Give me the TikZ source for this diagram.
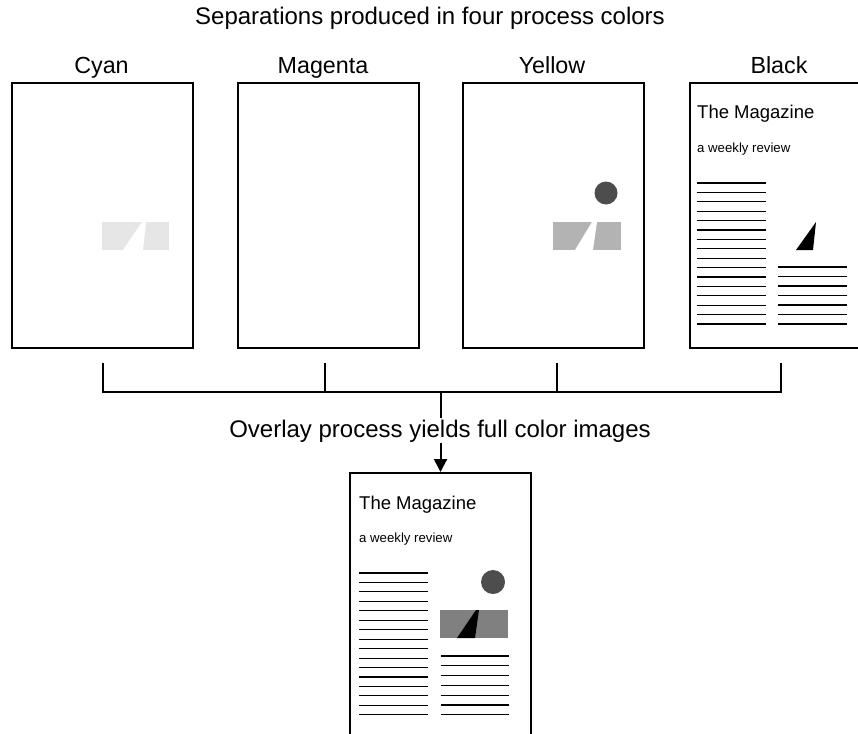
\documentclass[tikz,border=0pt]{standalone}
\usepackage{fontspec}
\setmainfont{Liberation Sans}
\usetikzlibrary{arrows.meta,calc}
\definecolor{cyangray}{HTML}{E6E6E6}
\definecolor{yelgray}{HTML}{B3B3B3}
\definecolor{compgray}{HTML}{808080}
\definecolor{dotgray}{HTML}{4D4D4D}
\begin{document}
\begin{tikzpicture}[x=1pt,y=-1pt,
  pagebox/.style={draw=black, line width=2pt, fill=white, minimum width=181pt, minimum height=265pt, inner sep=0pt, anchor=north west},
  tallpage/.style={pagebox, minimum height=300pt},
  conn/.style={draw=black, line width=2pt, line join=miter},
  textline/.style={draw=black, line width=1.1pt},
  bigtext/.style={font=\fontsize{24}{28}\selectfont, anchor=base, inner sep=0pt},
  labeltext/.style={font=\fontsize{23.3}{27}\selectfont, anchor=base, inner sep=0pt},
  magtitle/.style={font=\fontsize{18.5}{21}\selectfont, anchor=base west, inner sep=0pt},
  magsub/.style={font=\fontsize{13.2}{15}\selectfont, anchor=base west, inner sep=0pt}]
\useasboundingbox (0,0) rectangle (858,733);
\clip (0,0) rectangle (858,733);
\fill[white] (0,0) rectangle (858,733);

% title and labels
\node[bigtext] (title) at (430,25) {Separations produced in four process colors};
\node[labeltext] (lc) at (101.5,74) {Cyan};
\node[labeltext] (lm) at (323,74) {Magenta};
\node[labeltext] (ly) at (552,74) {Yellow};
\node[labeltext] (lk) at (779,74) {Black};

% pages
\node[pagebox] (cyan) at (11,82) {};
\node[pagebox] (magenta) at (237,82) {};
\node[pagebox] (yellow) at (462,82) {};
\node[pagebox] (black) at (689,82) {};
\node[tallpage] (comp) at (349,472) {};

% cyan separation
\begin{scope}[shift={(11,82)}]
  \fill[cyangray] (91,140) rectangle (158,168);
  \fill[white] (112,168) -- (131,140) -- (135,140) -- (132,168) -- cycle;
\end{scope}

% yellow separation
\begin{scope}[shift={(462,82)}]
  \fill[dotgray] (144,111) circle (11.5);
  \fill[yelgray] (91,140) rectangle (159,168);
  \fill[white] (113,168) -- (130,140) -- (135,140) -- (131,168) -- cycle;
\end{scope}

% black separation
\begin{scope}[shift={(689,82)}]
  \node[magtitle] (kt) at (8,36) {The Magazine};
  \node[magsub] (ks) at (8,70.5) {a weekly review};
  \foreach \i in {0,...,15} \draw[textline] (8,{101+\i*9.4}) -- (77,{101+\i*9.4});
  \foreach \i in {0,...,6} \draw[textline] (89,{185+\i*9.5}) -- (158,{185+\i*9.5});
  \fill[black] (107,168) -- (127,140) -- (124,168) -- cycle;
\end{scope}

% composite page
\begin{scope}[shift={(349,472)}]
  \node[magtitle] (ct) at (10,37) {The Magazine};
  \node[magsub] (cs) at (10,70) {a weekly review};
  \foreach \i in {0,...,15} \draw[textline] (10,{101+\i*9.45}) -- (79,{101+\i*9.45});
  \foreach \i in {0,...,6} \draw[textline] (92,{184+\i*9.8}) -- (160,{184+\i*9.8});
  \fill[dotgray] (144,110) circle (12);
  \fill[compgray] (91,138) rectangle (159,166);
  \fill[black] (108,166) -- (127,138) -- (130,138) -- (126,166) -- cycle;
\end{scope}

% bracket connectors
\coordinate (t1) at ($(cyan.south)+(0,14)$);
\coordinate (b1) at ($(cyan.south)+(0,43)$);
\coordinate (t2) at ($(magenta.south)+(-4,14)$);
\coordinate (b2) at ($(magenta.south)+(-4,43)$);
\coordinate (t3) at ($(yellow.south)+(3,14)$);
\coordinate (b3) at ($(yellow.south)+(3,43)$);
\coordinate (t4) at ($(black.south)+(0,14)$);
\coordinate (b4) at ($(black.south)+(0,43)$);
\coordinate (bc) at (comp.north |- b1);
\draw[conn] (t1) -- (b1) -- (b4) -- (t4);
\draw[conn] (t2) -- (b2);
\draw[conn] (t3) -- (b3);
\draw[conn, -{Triangle[width=13pt,length=13pt]}] (bc) -- (comp.north);

\node[bigtext, fill=white, inner sep=1.5pt] (overlay) at (440,437) {Overlay process yields full color images};
\end{tikzpicture}
\end{document}
